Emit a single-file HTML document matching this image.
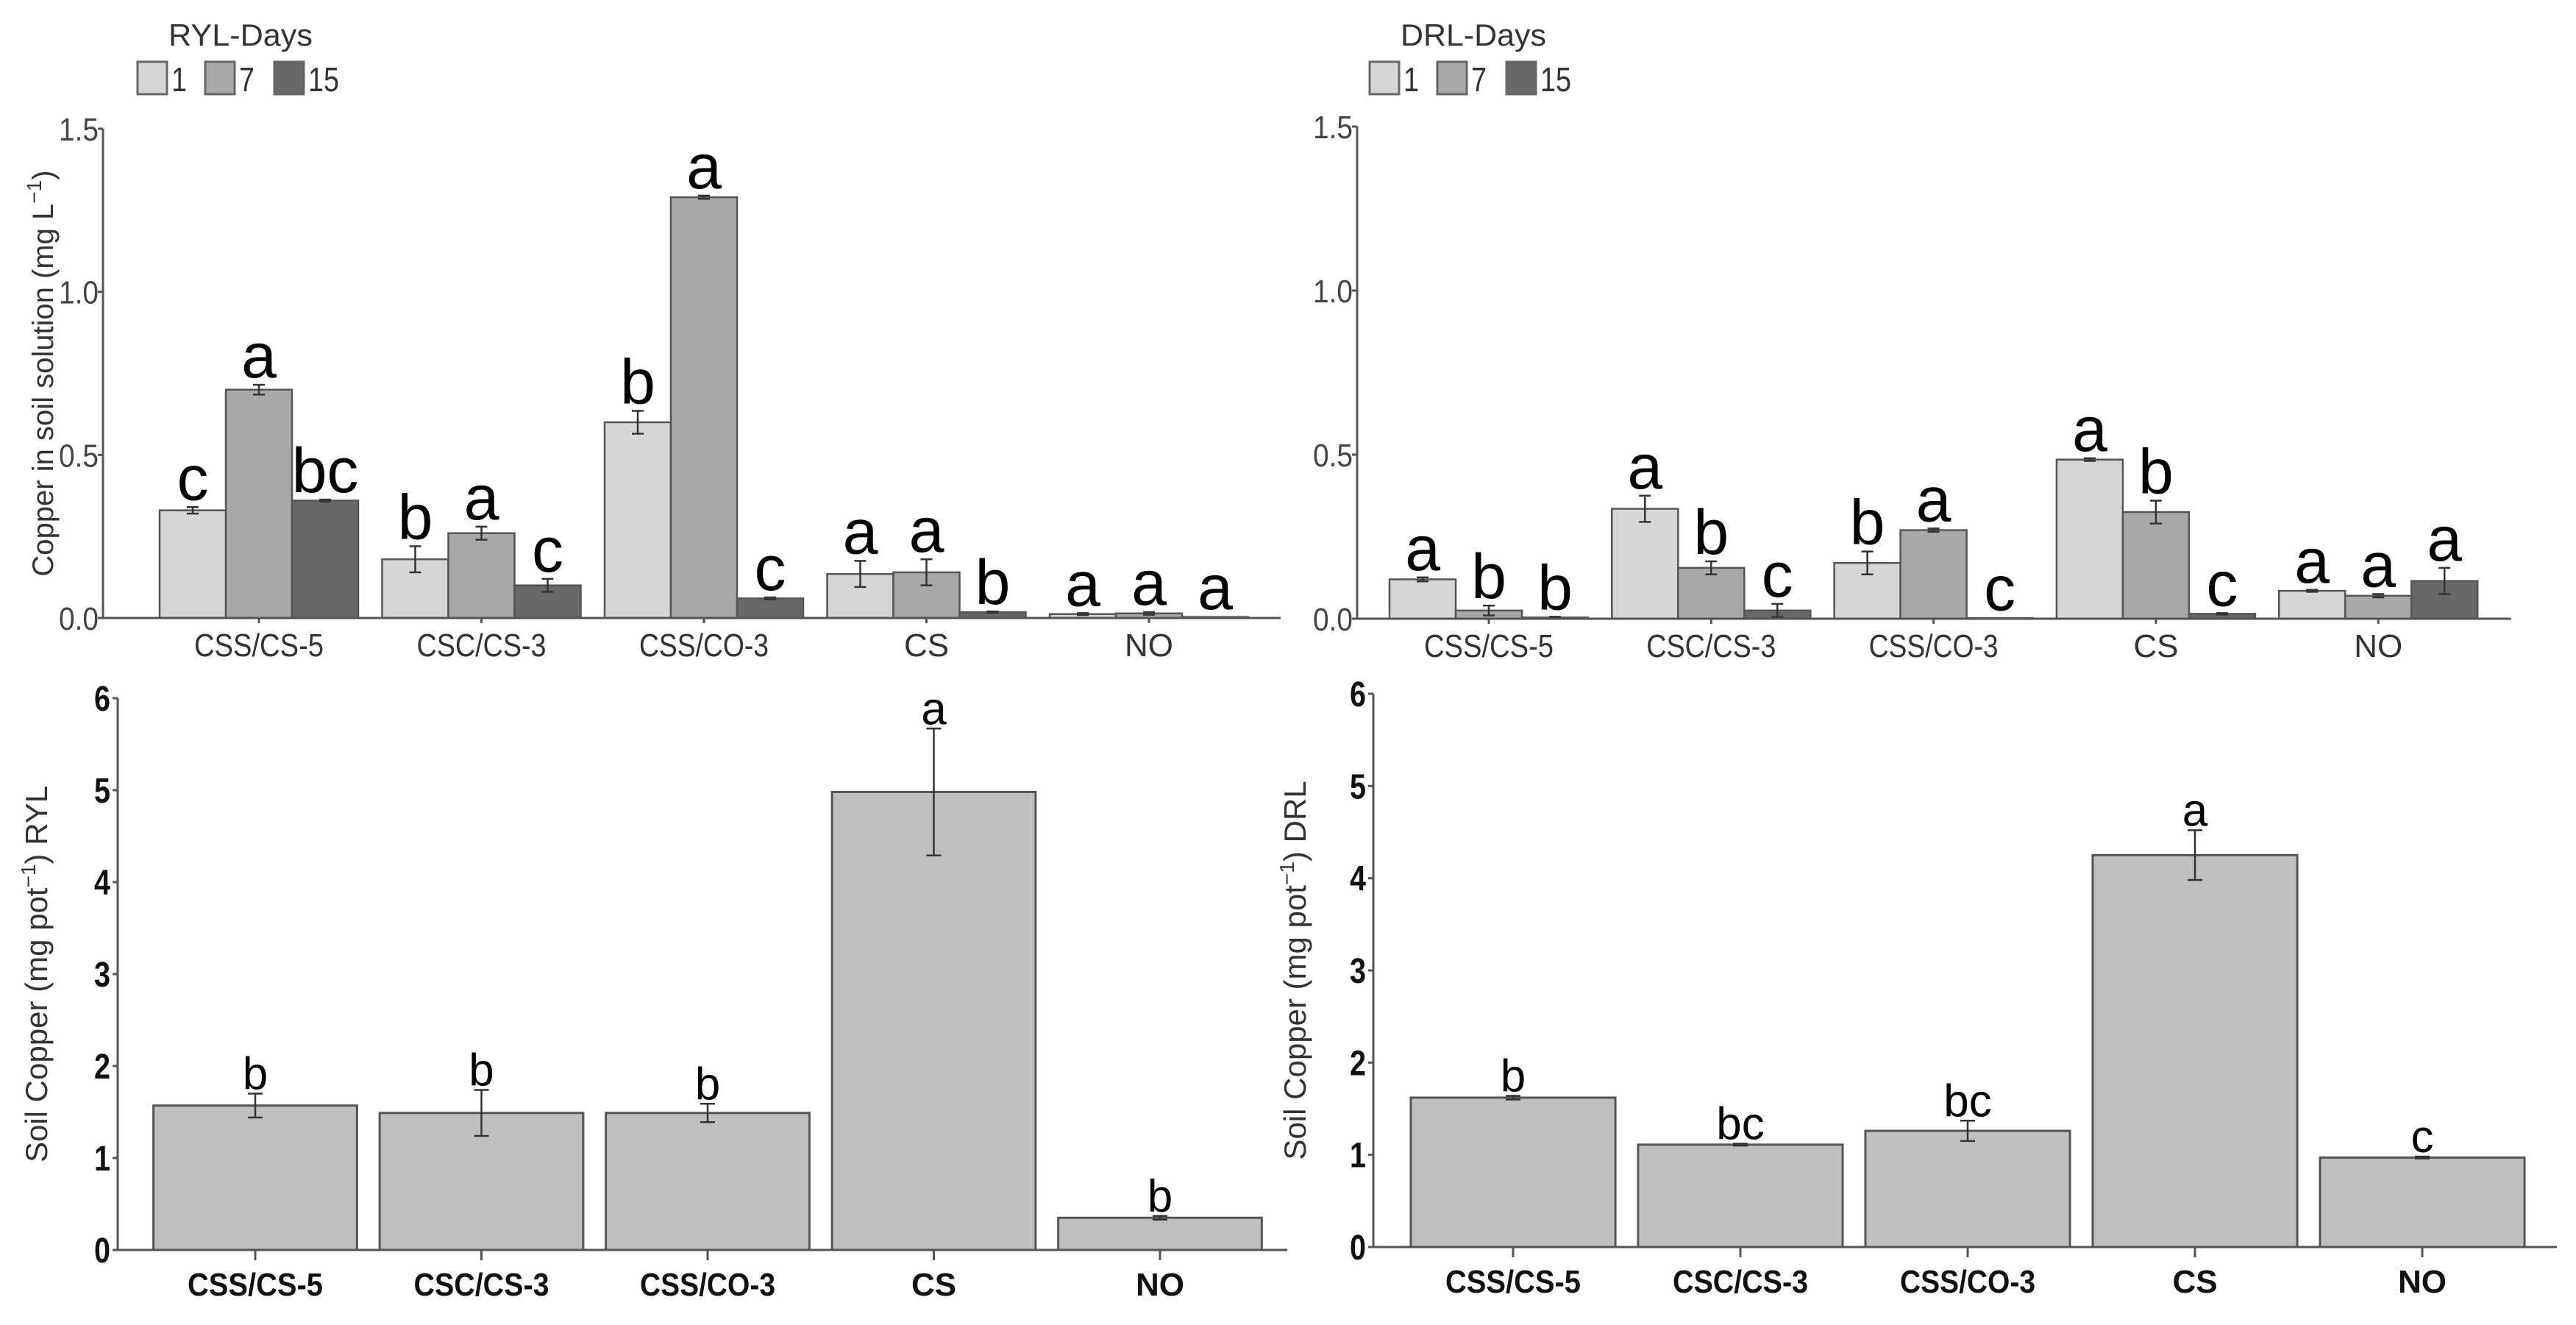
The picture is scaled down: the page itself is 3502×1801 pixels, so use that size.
<!DOCTYPE html>
<html><head><meta charset="utf-8"><style>
body{margin:0;background:#fff}
svg{display:block}
text{font-family:"Liberation Sans",sans-serif}
</style></head><body>
<svg id="fig" width="3502" height="1801" viewBox="0 0 3502 1801" xmlns="http://www.w3.org/2000/svg">
<rect width="3502" height="1801" fill="#fff"/>
<g id="root"></g>
</svg>
<script>
const categories = ["CSS/CS-5","CSC/CS-3","CSS/CO-3","CS","NO"];
const days = ["1","7","15"];
const rylDay1 = [0.33,0.18,0.60,0.135,0.012];
const rylDay7 = [0.70,0.26,1.29,0.14,0.014];
const rylDay15 = [0.36,0.10,0.06,0.018,0.003];
const rylErr1 = [0.01,0.04,0.035,0.04,0.003];
const rylErr7 = [0.015,0.02,0.005,0.04,0.004];
const rylErr15 = [0.003,0.02,0.003,0.002,0.001];
const rylLetters1 = ["c","b","b","a","a"];
const rylLetters7 = ["a","a","a","a","a"];
const rylLetters15 = ["bc","c","c","b","a"];
const drlDay1 = [0.12,0.335,0.17,0.485,0.085];
const drlDay7 = [0.025,0.155,0.27,0.325,0.07];
const drlDay15 = [0.004,0.025,0.002,0.015,0.115];
const drlErr1 = [0.006,0.04,0.035,0.004,0.003];
const drlErr7 = [0.015,0.02,0.005,0.035,0.005];
const drlErr15 = [0.002,0.02,0.001,0.002,0.04];
const drlLetters1 = ["a","a","b","a","a"];
const drlLetters7 = ["b","b","a","b","a"];
const drlLetters15 = ["b","c","c","c","a"];
const soilRyl = [1.57,1.49,1.49,4.98,0.35];
const soilRylErr = [0.13,0.25,0.10,0.69,0.02];
const soilRylLetters = ["b","b","b","a","b"];
const soilDrl = [1.62,1.11,1.26,4.25,0.97];
const soilDrlErr = [0.02,0.01,0.11,0.27,0.01];
const soilDrlLetters = ["b","bc","bc","a","c"];
const topTicks = [0,0.5,1.0,1.5];
const topTickLabels = ["0.0","0.5","1.0","1.5"];
const botTicks = [0,1,2,3,4,5,6];

const NS="http://www.w3.org/2000/svg";
const root=document.getElementById('root');
function mk(tag,attrs,parent,txt){const e=document.createElementNS(NS,tag);for(const k in attrs)e.setAttribute(k,attrs[k]);if(txt!==undefined)e.textContent=txt;(parent||root).appendChild(e);return e;}

const fills=["#d6d6d6","#a9a9a9","#686868"];

function topPanel(cfg){
  const g=mk('g',{});
  
  
  const y=v=>cfg.y0-(v/1.5)*(cfg.y0-cfg.y15);
  const xc=i=>cfg.c0+i*cfg.step;
  const ya=mk('line',{x1:cfg.ax,y1:cfg.y15,x2:cfg.ax,y2:cfg.y0,stroke:'#555','stroke-width':3},g);
  
  topTicks.forEach((t,k)=>{
    mk('line',{x1:cfg.ax-7,x2:cfg.ax,y1:y(t),y2:y(t),stroke:'#555','stroke-width':3},g);
    const tl=mk('text',{x:cfg.ax-6,y:y(t)+16,'text-anchor':'end','font-size':44,fill:'#444',textLength:54,lengthAdjust:'spacingAndGlyphs'},g,topTickLabels[k]);
    
  });
  const series=[cfg.d1,cfg.d7,cfg.d15], errs=[cfg.e1,cfg.e7,cfg.e15], lets=[cfg.l1,cfg.l7,cfg.l15];
  const bw=90;
  categories.forEach((c,i)=>{
    for(let s=0;s<3;s++){
      const v=series[s][i], x=xc(i)+(s-1)*bw-bw/2;
      const r=mk('rect',{x:x,y:y(v),width:bw,height:Math.max(0.5,y(0)-y(v)),fill:fills[s],stroke:'#555','stroke-width':2.5},g);
      
      const e=errs[s][i], cx=x+bw/2;
      if(e>0.001){
        mk('line',{x1:cx,x2:cx,y1:y(v+e),y2:y(v-e),stroke:'#333','stroke-width':2.5},g);
        mk('line',{x1:cx-8,x2:cx+8,y1:y(v+e),y2:y(v+e),stroke:'#333','stroke-width':2.5},g);
        mk('line',{x1:cx-8,x2:cx+8,y1:y(v-e),y2:y(v-e),stroke:'#333','stroke-width':2.5},g);
      }
      const lt=mk('text',{x:cx,y:y(v+e)-10,'text-anchor':'middle','font-size':86,fill:'#000'},g,lets[s][i]);
      
    }
    const xa={x:xc(i),y:cfg.y0+52,'text-anchor':'middle','font-size':44,fill:'#333'};
    if(c.length>3){xa.textLength=c.length*22;xa.lengthAdjust='spacingAndGlyphs';}
    const xl=mk('text',xa,g,c);
    
    mk('line',{x1:xc(i),x2:xc(i),y1:cfg.y0,y2:cfg.y0+7,stroke:'#555','stroke-width':3},g);
  });
  const xa=mk('line',{x1:cfg.ax,y1:cfg.y0,x2:cfg.axEnd,y2:cfg.y0,stroke:'#555','stroke-width':3},g);
  
  const lg=mk('g',{},g);
  const lt=mk('text',{x:cfg.legX+42,y:62,'font-size':42,fill:'#333',textLength:cfg.legTitleW,lengthAdjust:'spacingAndGlyphs'},lg,cfg.legTitle);
  
  const offs=[0,92,186];
  days.forEach((d,s)=>{
    const bx=cfg.legX+offs[s];
    const r=mk('rect',{x:bx,y:84,width:40,height:44,fill:fills[s],stroke:'#666','stroke-width':3},lg);
    
    const t=mk('text',{x:bx+46,y:124,'font-size':46,fill:'#333',textLength:d.length*21,lengthAdjust:'spacingAndGlyphs'},lg,d);
    
  });
  if(cfg.ytitle){
    const yt=mk('text',{x:0,y:0,'text-anchor':'middle','font-size':40,fill:'#333',transform:`translate(${cfg.ytx},${(cfg.y0+cfg.y15)/2}) rotate(-90)`},g);
    
    yt.appendChild(document.createTextNode('Copper in soil solution (mg L'));
    const sp=document.createElementNS(NS,'tspan');sp.setAttribute('dy','-16');sp.setAttribute('font-size','28');sp.textContent='−1';yt.appendChild(sp);
    const sp2=document.createElementNS(NS,'tspan');sp2.setAttribute('dy','16');sp2.textContent=')';yt.appendChild(sp2);
  }
}

function botPanel(cfg){
  const g=mk('g',{});
  
  
  const y=v=>cfg.y0-(v/6)*(cfg.y0-cfg.y6);
  const xc=i=>cfg.c0+i*cfg.step;
  const ya=mk('line',{x1:cfg.ax,y1:cfg.y6,x2:cfg.ax,y2:cfg.y0,stroke:'#555','stroke-width':3},g);
  
  botTicks.forEach(t=>{
    mk('line',{x1:cfg.ax-7,x2:cfg.ax,y1:y(t),y2:y(t),stroke:'#555','stroke-width':3},g);
    const tl=mk('text',{x:cfg.ax-10,y:y(t)+17,'text-anchor':'end','font-size':48,'font-weight':'bold',fill:'#111',textLength:22,lengthAdjust:'spacingAndGlyphs'},g,String(t));
    
  });
  const bw=cfg.step*0.9;
  categories.forEach((c,i)=>{
    const v=cfg.d[i], e=cfg.e[i], cx=xc(i);
    const r=mk('rect',{x:cx-bw/2,y:y(v),width:bw,height:y(0)-y(v),fill:'#bfbfbf',stroke:'#555','stroke-width':3},g);
    
    mk('line',{x1:cx,x2:cx,y1:y(v+e),y2:y(v-e),stroke:'#333','stroke-width':2.5},g);
    mk('line',{x1:cx-10,x2:cx+10,y1:y(v+e),y2:y(v+e),stroke:'#333','stroke-width':2.5},g);
    mk('line',{x1:cx-10,x2:cx+10,y1:y(v-e),y2:y(v-e),stroke:'#333','stroke-width':2.5},g);
    const lt=mk('text',{x:cx,y:y(v+e)-6,'text-anchor':'middle','font-size':62,fill:'#000'},g,cfg.l[i]);
    
    mk('line',{x1:cx,x2:cx,y1:cfg.y0,y2:cfg.y0+14,stroke:'#555','stroke-width':3},g);
    const xa={x:cx,y:cfg.y0+62,'text-anchor':'middle','font-size':44,'font-weight':'bold',fill:'#111'};
    if(c.length>3){xa.textLength=c.length*23;xa.lengthAdjust='spacingAndGlyphs';}
    const xl=mk('text',xa,g,c);
    
  });
  const xa=mk('line',{x1:cfg.ax,y1:cfg.y0,x2:cfg.axEnd,y2:cfg.y0,stroke:'#555','stroke-width':3},g);
  
  const yt=mk('text',{x:0,y:0,'text-anchor':'middle','font-size':42,fill:'#333',transform:`translate(${cfg.ytx},${(cfg.y0+cfg.y6)/2}) rotate(-90)`},g);
  
  yt.appendChild(document.createTextNode('Soil Copper (mg pot'));
  const sp=document.createElementNS(NS,'tspan');sp.setAttribute('dy','-16');sp.setAttribute('font-size','28');sp.textContent='−1';yt.appendChild(sp);
  const sp2=document.createElementNS(NS,'tspan');sp2.setAttribute('dy','16');sp2.textContent=') '+cfg.suffix;yt.appendChild(sp2);
}

topPanel({name:'ryl-solution-panel',ax:140,axEnd:1741,y0:840,y15:175,c0:352,step:302.5,
  d1:rylDay1,d7:rylDay7,d15:rylDay15,e1:rylErr1,e7:rylErr7,e15:rylErr15,l1:rylLetters1,l7:rylLetters7,l15:rylLetters15,
  legX:187,legTitle:'RYL-Days',legTitleW:196,ytitle:true,ytx:72});
topPanel({name:'drl-solution-panel',ax:1845,axEnd:3414,y0:841,y15:172,c0:2024,step:302.3,
  d1:drlDay1,d7:drlDay7,d15:drlDay15,e1:drlErr1,e7:drlErr7,e15:drlErr15,l1:drlLetters1,l7:drlLetters7,l15:drlLetters15,
  legX:1862,legTitle:'DRL-Days',legTitleW:198,ytitle:false});
botPanel({name:'ryl-soil-panel',ax:160,axEnd:1750,y0:1699,y6:949,c0:347,step:307.5,d:soilRyl,e:soilRylErr,l:soilRylLetters,suffix:'RYL',ytx:64});
botPanel({name:'drl-soil-panel',ax:1867,axEnd:3476,y0:1695,y6:943,c0:2057,step:309,d:soilDrl,e:soilDrlErr,l:soilDrlLetters,suffix:'DRL',ytx:1775});
</script>
</body></html>
